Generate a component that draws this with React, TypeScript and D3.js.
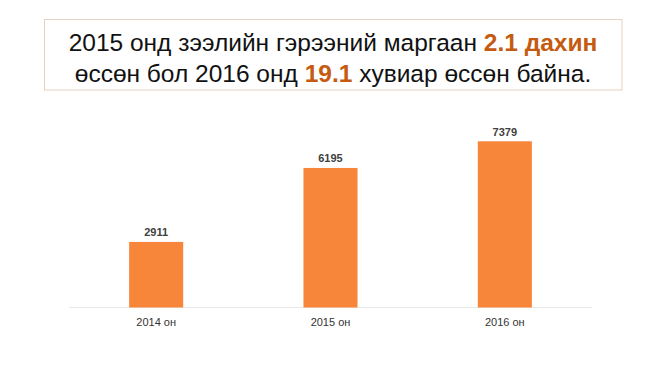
import React from "react";
import * as d3 from "d3";

const years = ["2014 он", "2015 он", "2016 он"];
const disputes = [2911, 6195, 7379];

const W = 650;
const H = 365;

export default function App() {
  const x = d3
    .scaleBand<string>()
    .domain(years)
    .range([69, 592])
    .paddingInner(0.69)
    .paddingOuter(0.345);

  const y = d3.scaleLinear().domain([0, 8000]).range([307.5, 127.3]);

  const font = "'Liberation Sans', Arial, sans-serif";
  const hl = "#c55a11";

  return (
    <svg
      width={W}
      height={H}
      style={{ position: "absolute", left: 0, top: 0, background: "#fff" }}
      fontFamily={font}
    >
      {/* title box */}
      <rect x={44.5} y={19.5} width={577.5} height={70.5} fill="none" stroke="#e6d2c0" strokeWidth={1} />
      <text x={333} y={50.5} textAnchor="middle" fontSize={24.5} fill="#111">
        2015 онд зээлийн гэрээний маргаан{" "}
        <tspan fill={hl} fontWeight="bold">2.1 дахин</tspan>
      </text>
      <text x={333} y={81.5} textAnchor="middle" fontSize={24.5} fill="#111">
        өссөн бол 2016 онд <tspan fill={hl} fontWeight="bold">19.1</tspan> хувиар өссөн байна.
      </text>

      {/* baseline */}
      <line x1={69} x2={592} y1={307.5} y2={307.5} stroke="#e8e8e8" strokeWidth={1.2} />

      {years.map((yr, i) => (
        <g key={yr}>
          <rect
            x={x(yr)}
            y={y(disputes[i])}
            width={x.bandwidth()}
            height={y(0) - y(disputes[i])}
            fill="#f7863a"
          />
          <text
            x={(x(yr) ?? 0) + x.bandwidth() / 2}
            y={y(disputes[i]) - 5.5}
            textAnchor="middle"
            fontSize={11}
            fontWeight="bold"
            fill="#404040"
          >
            {disputes[i]}
          </text>
          <text
            x={(x(yr) ?? 0) + x.bandwidth() / 2}
            y={325.5}
            textAnchor="middle"
            fontSize={11}
            fill="#333"
          >
            {yr}
          </text>
        </g>
      ))}
    </svg>
  );
}
